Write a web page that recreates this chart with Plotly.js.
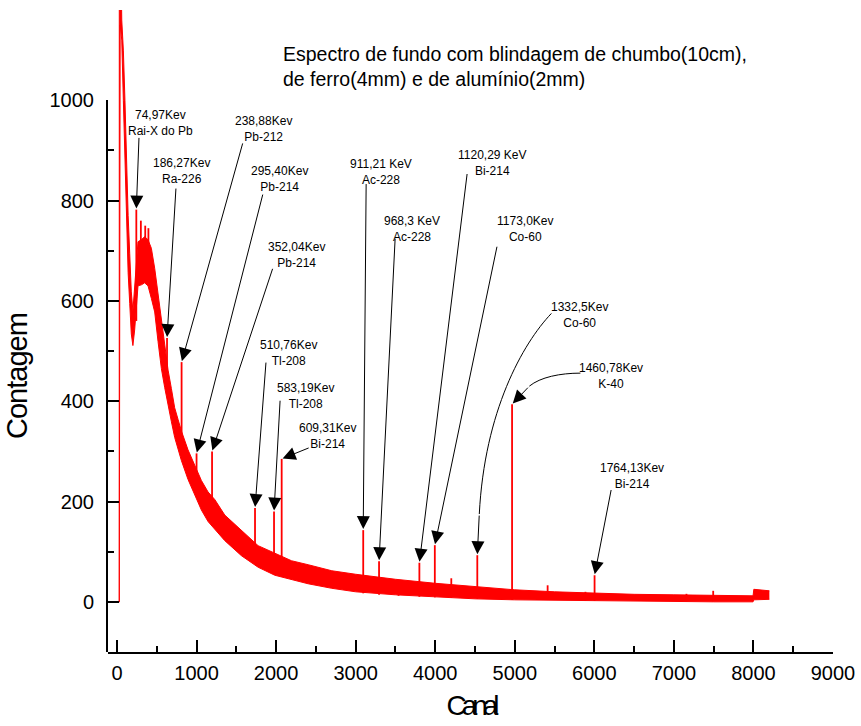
<!DOCTYPE html>
<html>
<head>
<meta charset="utf-8">
<script src="https://cdn.plot.ly/plotly-3.0.1.min.js"></script>
<style>
  html, body { margin: 0; padding: 0; background: #ffffff; }
  #chart { width: 861px; height: 726px; }
  #chart .g-xtitle text { letter-spacing: -5px; }
  #chart .g-y2title text { letter-spacing: -1px; }
</style>
</head>
<body>
<div id="chart"></div>
<script>
// Background spectrum: channel, upper and lower edge of the noisy count band
const bandChannel = [0, 28, 29, 40, 60, 80, 100, 120, 140, 160, 180, 200, 222, 264, 306, 348, 390, 432, 474, 516, 558, 600, 642, 684, 725, 767, 809, 893, 977, 1061, 1145, 1229, 1355, 1564, 1774, 1984, 2193, 2403, 2700, 3000, 3500, 4000, 4500, 5000, 5500, 6000, 6500, 7000, 7500, 7995, 8005, 8200];
const bandUpper   = [0, 0, 1400, 1400, 1160, 1100, 1000, 850, 770, 694, 618, 580, 626, 718, 722, 728, 722, 705, 665, 612, 560, 515, 462, 425, 387, 364, 341, 303, 273, 242, 219, 204, 173, 143, 112, 97, 82, 74, 62, 55, 45, 37, 30, 24, 20, 17, 15, 14, 13, 12, 25, 22];
const bandLower   = [0, 0, 0, 1150, 1120, 1000, 880, 770, 656, 595, 534, 511, 542, 630, 632, 636, 630, 605, 578, 519, 465, 427, 389, 359, 328, 305, 282, 244, 214, 183, 160, 145, 122, 92, 69, 53, 44, 36, 27, 20, 14, 10, 6, 4, 3, 2, 1, 1, 0, 0, 4, 5];

// Photopeaks and sharp spikes: channel, top count and the continuum under each line
const peakChannel = [243, 629, 812, 1000, 1195, 1735, 1974, 2070, 3095, 3294, 3801, 3995, 4529, 4966, 6003, 3539, 4202, 5413, 5888, 7158, 7494, 300, 355, 395];
const peakCount   = [782, 526, 478, 296, 300, 187, 180, 285, 143, 81, 78, 113, 93, 394, 53, 40, 47, 33, 20, 16, 22, 760, 750, 745];
const peakBase    = [560, 420, 300, 220, 160, 75, 55, 50, 17, 14, 10, 9, 6, 4, 2, 12, 8, 4, 2, 1, 1, 650, 650, 640];

// Identified lines (first 15 peaks)
const peakEnergy  = ['74,97Kev', '186,27Kev', '238,88Kev', '295,40Kev', '352,04Kev', '510,76Kev', '583,19Kev', '609,31Kev', '911,21 KeV', '968,3 KeV', '1120,29 KeV', '1173,0Kev', '1332,5Kev', '1460,78Kev', '1764,13Kev'];
const peakNuclide = ['Rai-X do Pb', 'Ra-226', 'Pb-212', 'Pb-214', 'Pb-214', 'Tl-208', 'Tl-208', 'Bi-214', 'Ac-228', 'Ac-228', 'Bi-214', 'Co-60', 'Co-60', 'K-40', 'Bi-214'];

// Axis ticks
const xTickVals = [0, 1000, 2000, 3000, 4000, 5000, 6000, 7000, 8000, 9000];
const xMinorVals = [500, 1500, 2500, 3500, 4500, 5500, 6500, 7500, 8500];
const yTickVals = [0, 200, 400, 600, 800, 1000];
const yMinorVals = [100, 300, 500, 700, 900];

// Callout placement: label centre and leader tail (data units); curved leaders use a path
const callouts = [
  { text: [553, 955],  tail: [277, 928] },
  { text: [805, 860],  tail: [742, 827] },
  { text: [1837, 942], tail: [1585, 917] },
  { text: [2038, 843], tail: [1837, 815] },
  { text: [2252, 691], tail: [1962, 667] },
  { text: [2151, 496], tail: [1874, 480] },
  { text: [2365, 411], tail: [2051, 404] },
  { text: [2642, 331], tail: [2428, 308] },
  { text: [3321, 857], tail: [3132, 836] },
  { text: [3711, 744], tail: [3497, 727] },
  { text: [4718, 874], tail: [4403, 856] },
  { text: [5133, 744], tail: [4780, 711] },
  { text: [5812, 571], tail: [4554, 175], curve: [[5460, 575], [5100, 515], [4620, 380]] },
  { text: [6215, 451], tail: [5183, 430], curve: [[5825, 456], [5573, 456], [5321, 448]] },
  { text: [6479, 251], tail: [6215, 226] }
];

const RED = '#ff0000';
const FONT = 'Liberation Sans, Arial, Helvetica, sans-serif';

const lowerTrace = {
  x: bandChannel, y: bandLower, type: 'scatter', mode: 'lines',
  line: { color: RED, width: 1 }, hoverinfo: 'skip', showlegend: false
};
const upperTrace = {
  x: bandChannel, y: bandUpper, type: 'scatter', mode: 'lines',
  line: { color: RED, width: 1 }, fill: 'tonexty', fillcolor: RED,
  hoverinfo: 'skip', showlegend: false
};

const px = [], py = [];
peakChannel.forEach((c, i) => {
  px.push(c, c, null);
  py.push(peakBase[i], peakCount[i], null);
});
const peakTrace = {
  x: px, y: py, type: 'scatter', mode: 'lines',
  line: { color: RED, width: 1.8 }, hoverinfo: 'skip', showlegend: false
};

// empty trace so the count axis (y2) gets its own subplot and is drawn
const countAxisTrace = {
  x: [], y: [], type: 'scatter', mode: 'lines', xaxis: 'x', yaxis: 'y2',
  hoverinfo: 'skip', showlegend: false
};

const annotations = [];
const shapes = [];
callouts.forEach((c, i) => {
  annotations.push({
    x: c.text[0], y: c.text[1], xref: 'x', yref: 'y',
    text: peakEnergy[i] + '<br>' + peakNuclide[i],
    showarrow: false, align: 'center',
    font: { family: FONT, size: 12, color: '#000' }
  });
  if (c.curve) {
    const p = c.curve;
    shapes.push({
      type: 'path', xref: 'x', yref: 'y',
      path: 'M ' + p[0][0] + ',' + p[0][1] + ' C ' + p[1][0] + ',' + p[1][1] + ' ' +
            p[2][0] + ',' + p[2][1] + ' ' + c.tail[0] + ',' + c.tail[1],
      line: { color: '#000', width: 1 }
    });
  }
  annotations.push({
    x: peakChannel[i], y: peakCount[i], xref: 'x', yref: 'y',
    ax: c.tail[0], ay: c.tail[1], axref: 'x', ayref: 'y',
    text: '', showarrow: true, arrowhead: 2, arrowsize: 2.6, arrowwidth: 1,
    arrowcolor: '#000', standoff: 1
  });
});

const layout = {
  width: 861, height: 726,
  margin: { l: 108, r: 28, t: 10, b: 74 },
  paper_bgcolor: '#ffffff', plot_bgcolor: 'rgba(0,0,0,0)',
  font: { family: FONT, color: '#000' },
  showlegend: false,
  title: {
    text: 'Espectro de fundo com blindagem de chumbo(10cm),<br>de ferro(4mm) e de alumínio(2mm)',
    x: 283 / 861, xanchor: 'left', y: 1 - 61 / 726, yanchor: 'middle',
    font: { family: FONT, size: 19.5, color: '#000' }
  },
  xaxis: {
    range: [-113, 9000], anchor: 'y',
    tickmode: 'array', tickvals: xTickVals,
    ticks: 'inside', ticklen: 12, tickwidth: 2, tickcolor: '#000',
    minor: { tickmode: 'array', tickvals: xMinorVals, ticks: 'inside', ticklen: 6, tickwidth: 2, tickcolor: '#000', showgrid: false },
    showline: true, linewidth: 2, linecolor: '#000',
    showgrid: false, zeroline: false,
    tickfont: { family: FONT, size: 20 }, ticklabelstandoff: 2,
    title: { text: 'Canal', font: { family: FONT, size: 28 }, standoff: 12 }
  },
  yaxis: {
    range: [-100, 1180], domain: [0, 1], visible: false, fixedrange: true
  },
  yaxis2: {
    range: [-100, 1000], domain: [0, 0.8595], anchor: 'x',
    tickmode: 'array', tickvals: yTickVals,
    ticks: 'inside', ticklen: 11, tickwidth: 2, tickcolor: '#000',
    minor: { tickmode: 'array', tickvals: yMinorVals, ticks: 'inside', ticklen: 6, tickwidth: 2, tickcolor: '#000', showgrid: false },
    showline: true, linewidth: 2, linecolor: '#000',
    showgrid: false, zeroline: false,
    tickfont: { family: FONT, size: 20 }, ticklabelstandoff: 8,
    title: { text: 'Contagem', font: { family: FONT, size: 29 }, standoff: 13 }
  },
  annotations: annotations,
  shapes: shapes
};

Plotly.newPlot('chart', [lowerTrace, upperTrace, peakTrace, countAxisTrace], layout, { staticPlot: true, displayModeBar: false });
</script>
</body>
</html>
